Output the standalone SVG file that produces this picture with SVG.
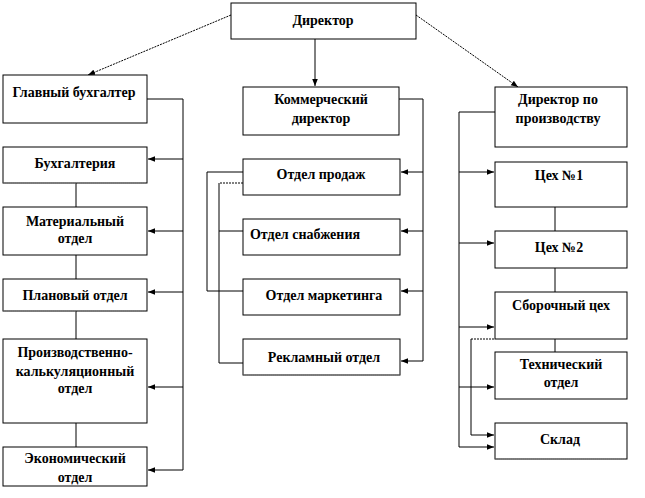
<svg xmlns="http://www.w3.org/2000/svg" width="645" height="498" viewBox="0 0 645 498">
<style>
.b{fill:#fff;stroke:#000;stroke-width:1}
.t{font-family:"Liberation Serif","Times New Roman",serif;font-weight:bold;font-size:14px;fill:#000;text-anchor:middle}
.c{fill:none;stroke:#000;stroke-width:1}
.d{fill:none;stroke:#000;stroke-width:1;stroke-dasharray:2 1}
.dv{fill:none;stroke:#777;stroke-width:1;stroke-dasharray:1 1}
</style>
<defs>
<marker id="a" viewBox="0 0 10 10" refX="10" refY="5" markerWidth="7" markerHeight="7" orient="auto" markerUnits="userSpaceOnUse">
<path d="M0,1 L10,5 L0,9 z" fill="#000"/>
</marker>
</defs>
<rect width="645" height="498" fill="#fff"/>
<g id="connectors">
<path class="d" d="M231,15 L88,75" marker-end="url(#a)"/>
<path class="c" d="M315,39 L315,86" marker-end="url(#a)"/>
<path class="d" d="M416,15 L518,87" marker-end="url(#a)"/>
<path class="c" d="M147,99 H183 V470"/>
<path class="c" d="M183,159 H148" marker-end="url(#a)"/>
<path class="c" d="M183,231 H148" marker-end="url(#a)"/>
<path class="c" d="M183,292 H148" marker-end="url(#a)"/>
<path class="c" d="M183,387 H148" marker-end="url(#a)"/>
<path class="c" d="M183,470 H148" marker-end="url(#a)"/>
<path class="c" d="M76,183 V207 M76,255 V279 M76,311 V339 M76,423 V447"/>
<path class="c" d="M399,99 H423 V361"/>
<path class="c" d="M423,172 H401" marker-end="url(#a)"/>
<path class="c" d="M423,231 H401" marker-end="url(#a)"/>
<path class="c" d="M423,291 H401" marker-end="url(#a)"/>
<path class="c" d="M423,361 H401" marker-end="url(#a)"/>
<path class="c" d="M243,172 H207 V291 H243"/>
<path class="d" d="M243,183 H219"/>
<path class="c" d="M219,183 V363 H243 M219,231 H243"/>
<path class="c" d="M495,112 H459 V447"/>
<path class="c" d="M459,172 H494" marker-end="url(#a)"/>
<path class="c" d="M459,243 H494" marker-end="url(#a)"/>
<path class="c" d="M459,327 H494" marker-end="url(#a)"/>
<path class="c" d="M459,387 H494" marker-end="url(#a)"/>
<path class="c" d="M459,447 H494" marker-end="url(#a)"/>
<path class="d" d="M471,339 H495"/>
<path class="c" d="M471,339 V435 H494" marker-end="url(#a)"/>
<path class="c" d="M555,207 V231 M555,268 V292 M555,339 V352"/>
</g>
<g id="director"><rect class="b" x="231" y="3" width="185" height="36"/><text class="t" x="323" y="25">Директор</text></g>
<g id="glavbuh"><rect class="b" x="3" y="75" width="144" height="48"/><text class="t" x="74" y="97">Главный бухгалтер</text></g>
<g id="kommerch"><rect class="b" x="243" y="87" width="156" height="48"/><text class="t" x="321" y="104">Коммерческий</text><text class="t" x="321" y="123">директор</text></g>
<g id="dirproizv"><rect class="b" x="495" y="87" width="132" height="60"/><text class="t" x="558" y="104">Директор по</text><text class="t" x="558" y="123">производству</text></g>
<g id="buhgalteria"><rect class="b" x="3" y="147" width="144" height="36"/><path class="dv" d="M3,183 H147"/><text class="t" x="75" y="168">Бухгалтерия</text></g>
<g id="material"><rect class="b" x="3" y="207" width="144" height="48"/><text class="t" x="75" y="226">Материальный</text><text class="t" x="75" y="243">отдел</text></g>
<g id="planovy"><rect class="b" x="3" y="279" width="144" height="32"/><path class="dv" d="M3,311 H147"/><text class="t" x="75" y="300">Плановый отдел</text></g>
<g id="proizvkalk"><rect class="b" x="3" y="339" width="144" height="84"/><text class="t" x="75" y="357">Производственно-</text><text class="t" x="75" y="376">калькуляционный</text><text class="t" x="75" y="393">отдел</text></g>
<g id="ekonom"><rect class="b" x="3" y="447" width="144" height="39"/><text class="t" x="75" y="463">Экономический</text><text class="t" x="75" y="482">отдел</text></g>
<g id="prodazh"><rect class="b" x="243" y="159" width="157" height="36"/><text class="t" x="321" y="179">Отдел продаж</text></g>
<g id="snabzh"><rect class="b" x="243" y="219" width="157" height="36"/><text class="t" x="305" y="239">Отдел снабжения</text></g>
<g id="marketing"><rect class="b" x="243" y="279" width="157" height="36"/><text class="t" x="324" y="300">Отдел маркетинга</text></g>
<g id="reklama"><rect class="b" x="243" y="339" width="157" height="36"/><path class="dv" d="M243,375 H400"/><text class="t" x="324" y="362">Рекламный отдел</text></g>
<g id="tseh1"><rect class="b" x="495" y="162" width="132" height="45"/><text class="t" x="559" y="180">Цех №1</text></g>
<g id="tseh2"><rect class="b" x="495" y="231" width="132" height="37"/><text class="t" x="559" y="252">Цех №2</text></g>
<g id="sborochny"><rect class="b" x="495" y="292" width="132" height="47"/><text class="t" x="561" y="310">Сборочный цех</text></g>
<g id="tehnich"><rect class="b" x="495" y="352" width="132" height="47"/><text class="t" x="561" y="369">Технический</text><text class="t" x="561" y="387">отдел</text></g>
<g id="sklad"><rect class="b" x="495" y="423" width="132" height="36"/><path class="dv" d="M495,459 H627"/><text class="t" x="560" y="444">Склад</text></g>
</svg>
